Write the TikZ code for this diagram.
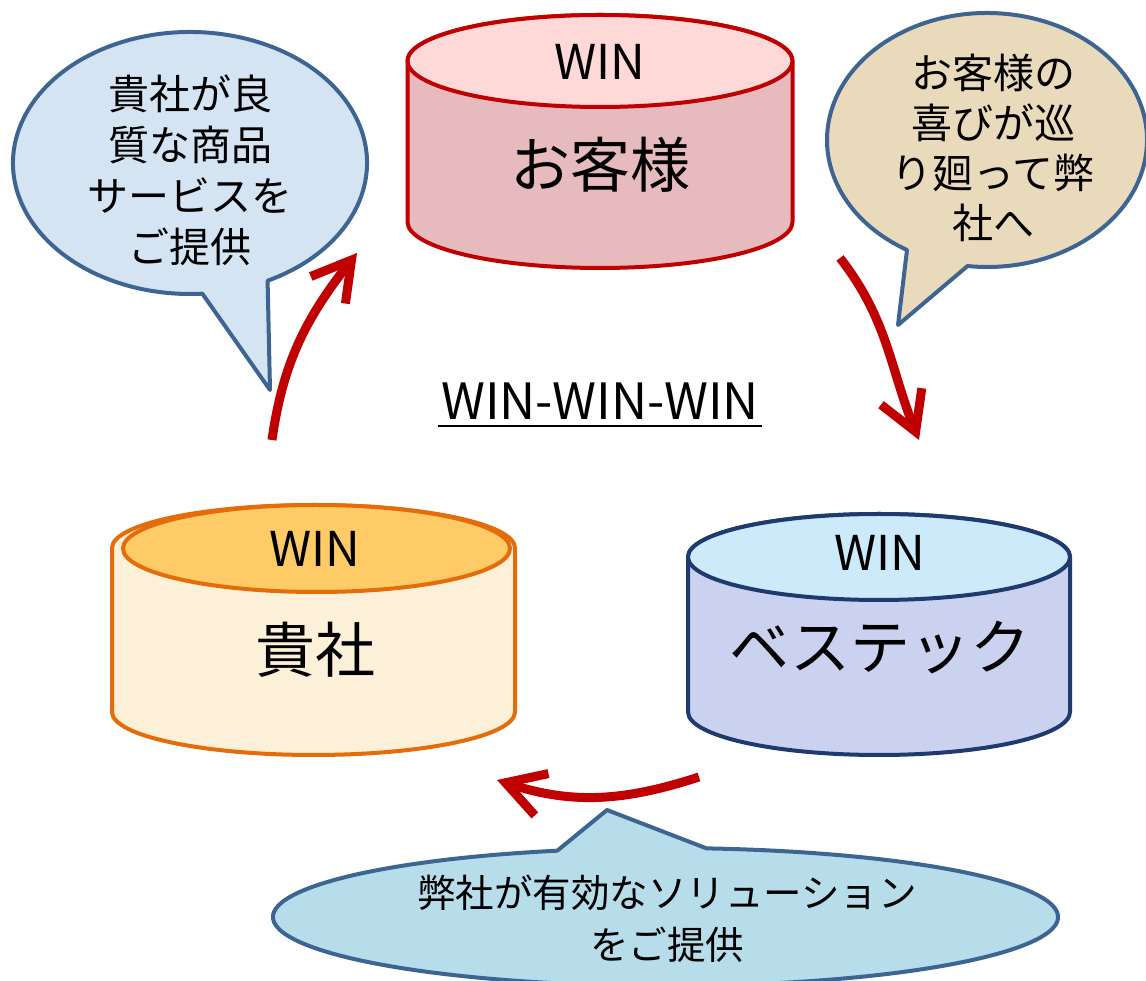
\documentclass[tikz,border=0pt]{standalone}
\usepackage{fontspec}
\setmainfont{Noto Sans CJK JP}
\usetikzlibrary{arrows.meta,calc}

\definecolor{arrowred}{HTML}{C00000}
\definecolor{bubbleline}{HTML}{3E6492}
\definecolor{okyakuline}{HTML}{C00000}
\definecolor{okyakutop}{HTML}{FFD8D8}
\definecolor{okyakubody}{HTML}{E7BABE}
\definecolor{kishaline}{HTML}{E46C0A}
\definecolor{kishatop}{HTML}{FFCB66}
\definecolor{kishabody}{HTML}{FCF0D8}
\definecolor{bestecline}{HTML}{1F3A6E}
\definecolor{bestectop}{HTML}{CDEAFB}
\definecolor{bestecbody}{HTML}{CBD2EF}
\definecolor{sayKishafill}{HTML}{D4E4F3}
\definecolor{sayOkyakufill}{HTML}{E8DABB}
\definecolor{sayBestecfill}{HTML}{B6DDE9}

\begin{document}
\begin{tikzpicture}[x=1pt, y=1pt,
    flow/.style={draw=arrowred, line width=9pt, -{Straight Barb[length=38pt,width=44pt]}},
    bubble/.style={draw=bubbleline, line width=4pt, line join=round},
    cyl/.style={line width=4pt, line join=round},
    winlabel/.style={font=\fontsize{48pt}{56pt}\selectfont},
    namelabel/.style={font=\fontsize{60pt}{70pt}\selectfont},
    saylabel/.style={align=center, font=\fontsize{41pt}{51pt}\selectfont}]
    \useasboundingbox (0,0) rectangle (1146,980);

    % お客様 (top)
    \filldraw[cyl, draw=okyakuline, fill=okyakubody] (407.5,919) -- (407.5,758)
      arc[start angle=180, end angle=360, x radius=192.5pt, y radius=46pt]
      -- (792.5,919) arc[start angle=0, end angle=180, x radius=192.5pt, y radius=46pt] -- cycle;
    \filldraw[cyl, draw=okyakuline, fill=okyakutop] (600,919) ellipse [x radius=192.5pt, y radius=46pt];
    \node[winlabel] (okyakuWin) at (600,918) {WIN};
    \node[namelabel] (okyaku) at (600,815) {お客様};

    % 貴社 (left)
    \filldraw[cyl, draw=kishaline, fill=kishabody] (112,432) -- (112,268)
      arc[start angle=180, end angle=360, x radius=201.5pt, y radius=43pt]
      -- (515,432) arc[start angle=0, end angle=180, x radius=201.5pt, y radius=43pt] -- cycle;
    \filldraw[cyl, draw=kishaline, fill=kishatop] (316.5,431.5) ellipse [x radius=193.5pt, y radius=43.5pt];
    \node[winlabel] (kishaWin) at (315,431) {WIN};
    \node[namelabel] (kisha) at (315,330) {貴社};

    % ベステック (right)
    \filldraw[cyl, draw=bestecline, fill=bestecbody] (688,423) -- (688,268)
      arc[start angle=180, end angle=360, x radius=191pt, y radius=43pt]
      -- (1070,423) arc[start angle=0, end angle=180, x radius=191pt, y radius=43pt] -- cycle;
    \filldraw[cyl, draw=bestecline, fill=bestectop] (879,423) ellipse [x radius=191pt, y radius=43pt];
    \node[winlabel] (bestecWin) at (880,427) {WIN};
    \node[namelabel] (bestec) at (880,332) {ベステック};

    % 吹き出し
    \coordinate (cA) at (190,817);
    \coordinate (tipA) at (270,590);
    \draw[bubble, fill=sayKishafill] ($(cA)+(-64:177pt and 131pt)$)
      arc[start angle=-64, end angle=274, x radius=177pt, y radius=131pt] -- (tipA) -- cycle;
    \node[saylabel] (sayKisha) at (190,810) {貴社が良\\質な商品\\サービスを\\ご提供};

    \coordinate (cB) at (987,840);
    \coordinate (tipB) at (898,655);
    \draw[bubble, fill=sayOkyakufill] ($(cB)+(-97:160pt and 127pt)$)
      arc[start angle=-97, end angle=240, x radius=160pt, y radius=127pt] -- (tipB) -- cycle;
    \node[saylabel, font=\fontsize{41pt}{50pt}\selectfont] (sayOkyaku) at (993,832) {お客様の\\喜びが巡\\り廻って弊\\社へ};

    \coordinate (cC) at (665.5,63);
    \coordinate (tipC) at (607,170);
    \draw[bubble, fill=sayBestecfill] ($(cC)+(106:392.5pt and 69pt)$)
      arc[start angle=106, end angle=444, x radius=392.5pt, y radius=69pt] -- (tipC) -- cycle;
    \node[saylabel, font=\fontsize{38.5pt}{52pt}\selectfont] (sayBestec) at (667,61) {弊社が有効なソリューション\\をご提供};

    % 矢印
    \coordinate (kishaOut) at (272,540);
    \coordinate (okyakuIn) at (357,727);
    \coordinate (okyakuOut) at (840,722);
    \coordinate (bestecIn) at (919,540);
    \coordinate (bestecOut) at (699,203);
    \coordinate (kishaIn) at (497,200);
    \draw[flow] (kishaOut) to[out=82, in=232] (okyakuIn);
    \draw[flow] (okyakuOut) to[out=-52, in=112] (bestecIn);
    \draw[flow] (bestecOut) to[out=-162, in=-18] (kishaIn);

    \node[anchor=base, font=\fontsize{50pt}{58pt}\selectfont] (title) at (600,560) {WIN-WIN-WIN};
    \draw[line width=2.5pt] ([yshift=-6pt]title.base west) -- ([yshift=-6pt]title.base east);
\end{tikzpicture}
\end{document}
